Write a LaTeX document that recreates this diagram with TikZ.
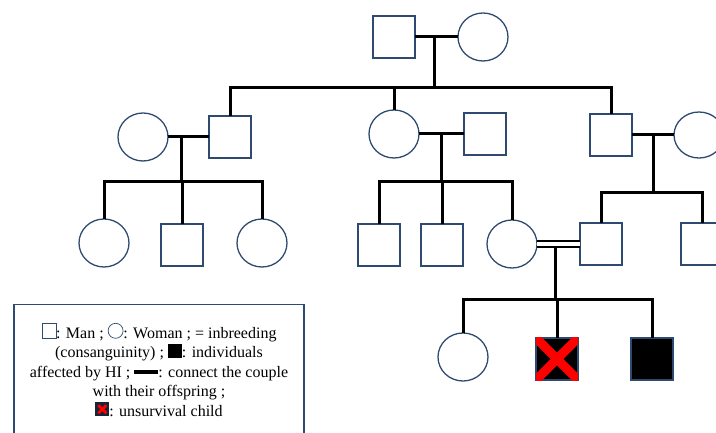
\documentclass[tikz,border=0pt]{standalone}
\usepackage{fontspec}
\setmainfont{Liberation Serif}
\usetikzlibrary{shapes.geometric,calc}
\definecolor{navy}{HTML}{2F4A70}
% legend symbols
\newcommand{\mansym}{\tikz[baseline=0pt]\draw[navy,line width=0.7pt] (0pt,0pt) rectangle (14pt,15pt);}
\newcommand{\womansym}{\tikz[baseline=0pt]\draw[navy,line width=0.7pt] (7.5pt,7.5pt) circle[radius=7.5pt];}
\newcommand{\affsym}{\tikz[baseline=0pt]\fill (0pt,0pt) rectangle (14pt,14pt);}
\newcommand{\barsym}{\tikz[baseline=0pt]\fill (0pt,3.5pt) rectangle (24pt,7.5pt);}
\newcommand{\deadsym}{\tikz[baseline=0pt]{\fill[navy!50!black] (0pt,0pt) rectangle (14pt,14pt);
  \draw[red,line width=2.8pt] (3pt,3pt) -- (11pt,11pt) (3pt,11pt) -- (11pt,3pt);}}

\begin{document}
\begin{tikzpicture}[x=1pt,y=-1pt]
  \tikzstyle{man}=[draw=navy,line width=1.3pt,minimum size=42pt,inner sep=0pt,outer sep=0pt]
  \tikzstyle{woman}=[ellipse,draw=navy,line width=1.3pt,minimum width=50pt,minimum height=48pt,inner sep=0pt,outer sep=0pt]
  \tikzstyle{affected}=[man,fill=black]
  \tikzstyle{link}=[line width=3pt]
  \useasboundingbox (0,0) rectangle (716,433);

  % generation I
  \node[man] (gf) at (394,37) {};
  \node[woman] (gm) at (483,37) {};
  \coordinate (u1) at ($(gf.east)!0.45!(gm.west)$);
  \coordinate (s1) at (u1 |- 0,88);

  % generation II
  \node[woman] (w1) at (143,137) {};
  \node[man] (h1) at (230,137) {};
  \node[woman] (w2) at (394,134) {};
  \node[man] (h2) at (485,134) {};
  \node[man] (h3) at (611,135) {};
  \node[woman,minimum height=46pt] (w3) at (699,135) {};
  \coordinate (u2) at ($(w1.east)!0.33!(h1.west)$);
  \coordinate (u3) at ($(w2.east)!0.5!(h2.west)$);
  \coordinate (u4) at ($(h3.east)!0.52!(w3.west)$);
  \coordinate (s2) at (u2 |- 0,182);
  \coordinate (s3) at (u3 |- 0,182);
  \coordinate (s4) at (u4 |- 0,193);

  % generation III
  \node[woman] (c11) at (104,243) {};
  \node[man] (c12) at (182,245) {};
  \node[woman] (c13) at (262,243) {};
  \node[man] (c21) at (379,245) {};
  \node[man] (c22) at (442,245) {};
  \node[woman] (c23) at (512,244) {};
  \node[man] (c31) at (601,244) {};
  \node[man] (c32) at (702,244) {};
  \coordinate (u5) at ($($(c23.east)!0.43!(c31.west)$)+(0,3)$);
  \coordinate (s5) at (u5 |- 0,300);

  % generation IV
  \node[woman] (d1) at (463,357) {};
  \node[affected] (d2) at (557,359) {};
  \node[affected] (d3) at (652,359) {};
  \begin{scope}
    \clip (d2.north west) rectangle (d2.south east);
    \draw[red,line width=9pt] (d2.north west) -- (d2.south east)
      (d2.north east) -- (d2.south west);
  \end{scope}

  % couples and offspring
  \draw[link] (gf.east) -- (gm.west);
  \draw[link] (u1) -- (s1);
  \draw[link] (h1.north) |- (s1) -| (h3.north);
  \draw[link] (w2.north) -- (w2.north |- s1);

  \draw[link] (w1.east) -- (h1.west);
  \draw[link] (u2) -- (s2);
  \draw[link] (c11.north) |- (s2) -| (c13.north);
  \draw[link] (c12.north) -- (c12.north |- s2);

  \draw[link] (w2.east) -- (h2.west);
  \draw[link] (u3) -- (s3);
  \draw[link] (c21.north) |- (s3) -| (c23.north);
  \draw[link] (c22.north) -- (c22.north |- s3);

  \draw[link] (h3.east) -- (w3.west);
  \draw[link] (u4) -- (s4);
  \draw[link] (c31.north) |- (s4) -| (c32.north);

  \draw[line width=2.4pt,double,double distance=3.6pt] (c23.east) -- (c31.west);
  \draw[link] (u5) -- (s5);
  \draw[link] (d1.north) |- (s5) -| (d3.north);
  \draw[link] (d2.north) -- (d2.north |- s5);

  % key
  \node[draw=navy,line width=1.5pt,minimum width=290pt,minimum height=130pt,anchor=north,
    align=center,font=\fontsize{16}{19.5}\selectfont] (key) at (159,304)
    {\mansym: Man ; \womansym: Woman ; = inbreeding\\
     (consanguinity) ; \affsym: individuals\\
     affected by HI ; \barsym: connect the couple\\
     with their offspring ;\\
     \deadsym: unsurvival child};
  \draw[navy,line width=1.5pt] (key.south west) -- ++(0,10) (key.south east) -- ++(0,10);
\end{tikzpicture}
\end{document}
